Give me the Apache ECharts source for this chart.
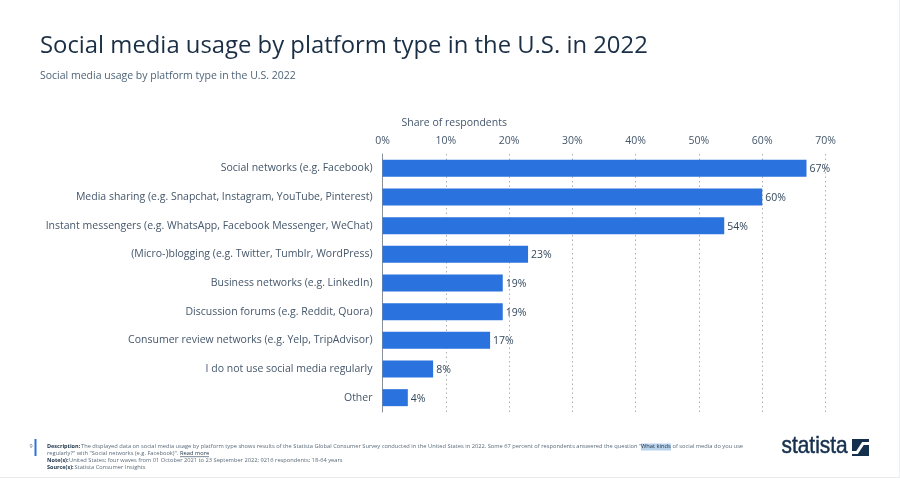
<!DOCTYPE html>
<html><head><meta charset="utf-8">
<style>html,body{margin:0;padding:0;background:#fff}#c{width:900px;height:480px}</style>
<script src="https://cdn.jsdelivr.net/npm/echarts@6/dist/echarts.min.js"></script>
</head><body><div id="c"></div>
<script>
const categories = [
  "Social networks (e.g. Facebook)",
  "Media sharing (e.g. Snapchat, Instagram, YouTube, Pinterest)",
  "Instant messengers (e.g. WhatsApp, Facebook Messenger, WeChat)",
  "(Micro-)blogging (e.g. Twitter, Tumblr, WordPress)",
  "Business networks (e.g. LinkedIn)",
  "Discussion forums (e.g. Reddit, Quora)",
  "Consumer review networks (e.g. Yelp, TripAdvisor)",
  "I do not use social media regularly",
  "Other"
];
const shares = [67, 60, 54, 23, 19, 19, 17, 8, 4];
const F = '"Open Sans", sans-serif';
const small = {fontFamily:F,fontSize:5.72,fill:'#5b6b7a'};
const smallB = {fontFamily:F,fontSize:5.5,fill:'#22364c',fontWeight:700};
function T(x,y,text,st){return {type:'text',left:x,top:y,silent:true,style:Object.assign({text:text},st)};}
const chart = echarts.init(document.getElementById('c'),null,{renderer:'canvas'});
chart.setOption({
  animation:false,
  backgroundColor:'#fff',
  grid:{left:382.5,top:154,width:443,height:258,containLabel:false},
  xAxis:{type:'value',position:'top',min:0,max:70,interval:10,
    axisLine:{show:false},axisTick:{show:false},
    axisLabel:{formatter:'{value}%',color:'#44566a',fontFamily:F,fontSize:10.5,margin:7},
    splitLine:{show:true,lineStyle:{color:'#a9b0b7',type:[1.5,3],width:1}}},
  yAxis:{type:'category',inverse:true,data:categories,
    axisLine:{show:true,lineStyle:{color:'#8a8f95',width:1}},axisTick:{show:false},
    axisLabel:{color:'#44566a',fontFamily:F,fontSize:10.5,margin:10,padding:[2,0,0,0]}},
  series:[{type:'bar',data:shares,barWidth:17,z:3,
    itemStyle:{color:'#2a72dd'},
    label:{show:true,position:'right',distance:3,offset:[0,1],formatter:'{c}%',color:'#33475b',fontFamily:F,fontSize:10.5}}],
  graphic:[
    {type:'rect',left:0,top:477,silent:true,shape:{width:900,height:1},style:{fill:'#e8eaec'}},
    {type:'rect',left:899,top:0,silent:true,shape:{width:1,height:478},style:{fill:'#eceef0'}},
    T(40,34,'Social media usage by platform type in the U.S. in 2022',{fontFamily:F,fontSize:23.85,fill:'#1a2f45'}),
    T(40,71,'Social media usage by platform type in the U.S. 2022',{fontFamily:F,fontSize:10.5,fill:'#4f6478'}),
    T(401.5,118,'Share of respondents',{fontFamily:F,fontSize:10.5,fill:'#44566a'}),
    {type:'rect',left:34.5,top:439,silent:true,shape:{width:2,height:17},style:{fill:'#2a72dd'}},
    T(29.5,443,'9',{fontFamily:F,fontSize:5.5,fill:'#5b6b7a'}),
    T(47,443,'Description:',smallB),
    T(81,443,'The displayed data on social media usage by platform type shows results of the Statista Global Consumer Survey conducted in the United States in 2022. Some 67 percent of respondents answered the question "',small),
    {type:'rect',left:641,top:443.5,silent:true,shape:{width:30,height:7},style:{fill:'#b9d3ec'}},
    T(641,443,'What kinds',{fontFamily:F,fontSize:5.72,fill:'#22364c'}),
    T(672.5,443,'of social media do you use',small),
    T(47,450,'regularly?" with "Social networks (e.g. Facebook)".',small),
    T(180,450,'Read more',{fontFamily:F,fontSize:5.72,fill:'#22364c'}),
    {type:'rect',left:180,top:456.5,silent:true,shape:{width:29,height:0.6},style:{fill:'#22364c'}},
    T(47,457,'Note(s):',smallB),
    T(69,457,'United States; four waves from 01 October 2021 to 23 September 2022; 9216 respondents; 18-64 years',small),
    T(47,464,'Source(s):',smallB),
    T(74.5,464,'Statista Consumer Insights',small),
    {type:'text',x:781.5,y:434,scaleX:0.87,silent:true,style:{text:'statista',fontFamily:'"Liberation Sans Narrow", "Liberation Sans", sans-serif',fontSize:24,fill:'#15304d',stroke:'#15304d',lineWidth:0.5}},
    {type:'rect',left:852,top:439,silent:true,shape:{width:17,height:17},style:{fill:'#15304d'}},
    {type:'polyline',silent:true,shape:{points:[[852,452.5],[857,452.5],[863,443.5],[869,443.5]]},style:{stroke:'#fff',lineWidth:3,fill:'none'}}
  ]
});
</script></body></html>
